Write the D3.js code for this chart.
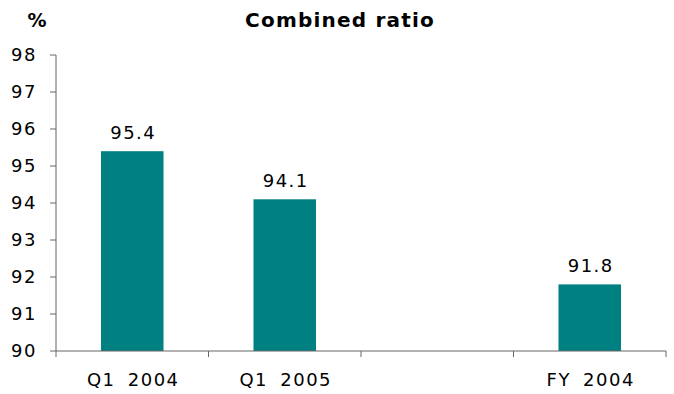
<!DOCTYPE html>
<html><head><meta charset="utf-8">
<script src="https://cdn.jsdelivr.net/npm/d3@7"></script>
<style>body{margin:0;background:#fff}svg{display:block}text{font-family:"DejaVu Sans",Verdana,sans-serif;fill:#000}</style>
</head><body><svg id="c" width="674" height="394"></svg>
<script>
const categories = ["Q1 2004", "Q1 2005", "", "FY 2004"];
const values = [95.4, 94.1, null, 91.8];
const yTicks = [90, 91, 92, 93, 94, 95, 96, 97, 98];
const title = "Combined ratio";
const unit = "%";

const svg = d3.select("#c");
const x = d3.scaleBand().domain(d3.range(categories.length)).range([56, 666]).padding(0);
const y = d3.scaleLinear().domain([90, 98]).range([351, 55]);
const bw = x.bandwidth() * 0.41;
const axisCol = "#666";

// bars
const data = categories.map((c, i) => ({c, i, v: values[i]})).filter(d => d.v != null);
svg.selectAll("rect.bar").data(data).join("rect")
  .attr("x", d => x(d.i) + x.bandwidth()/2 - bw/2)
  .attr("y", d => y(d.v))
  .attr("width", bw)
  .attr("height", d => y(90) - y(d.v))
  .attr("fill", "#008080");

svg.selectAll("text.val").data(data).join("text")
  .attr("x", d => x(d.i) + x.bandwidth()/2 + 1)
  .attr("y", d => y(d.v) - 12)
  .attr("text-anchor", "middle")
  .style("font-size", "18px").style("letter-spacing", "1.5px")
  .text(d => d.v.toFixed(1));

// y axis
const gy = svg.append("g");
gy.append("line").attr("x1", 56).attr("x2", 56).attr("y1", y(98)).attr("y2", y(90)).attr("stroke", axisCol);
gy.selectAll("line.t").data(yTicks).join("line")
  .attr("x1", 50).attr("x2", 56).attr("y1", d => y(d)).attr("y2", d => y(d)).attr("stroke", axisCol);
gy.selectAll("text").data(yTicks).join("text")
  .attr("x", 37).attr("y", d => y(d)).attr("dy", "0.36em")
  .attr("text-anchor", "end").style("font-size", "18px").style("letter-spacing", "1.5px")
  .text(d => d);

// x axis
const gx = svg.append("g");
gx.append("line").attr("x1", 56).attr("x2", 666).attr("y1", y(90)).attr("y2", y(90)).attr("stroke", axisCol);
const bounds = d3.range(categories.length + 1).map(i => i < categories.length ? x(i) : x.range()[1]);
gx.selectAll("line.t").data(bounds).join("line")
  .attr("x1", d => d).attr("x2", d => d).attr("y1", y(90)).attr("y2", y(90) + 6).attr("stroke", axisCol);
gx.selectAll("text").data(categories.map((c, i) => ({c, i})).filter(d => d.c)).join("text")
  .attr("x", d => x(d.i) + x.bandwidth()/2 + 1)
  .attr("y", 386)
  .attr("text-anchor", "middle")
  .style("font-size", "18px").style("letter-spacing", "1.5px").style("word-spacing", "5px")
  .text(d => d.c);

// title
svg.append("text").attr("x", 340).attr("y", 27).attr("text-anchor", "middle")
  .style("font-size", "20px").style("font-weight", "bold").style("letter-spacing", "1.2px").text(title);
svg.append("text").attr("x", 37).attr("y", 27).attr("text-anchor", "middle")
  .style("font-size", "19px").style("font-weight", "bold").text(unit);
</script></body></html>
